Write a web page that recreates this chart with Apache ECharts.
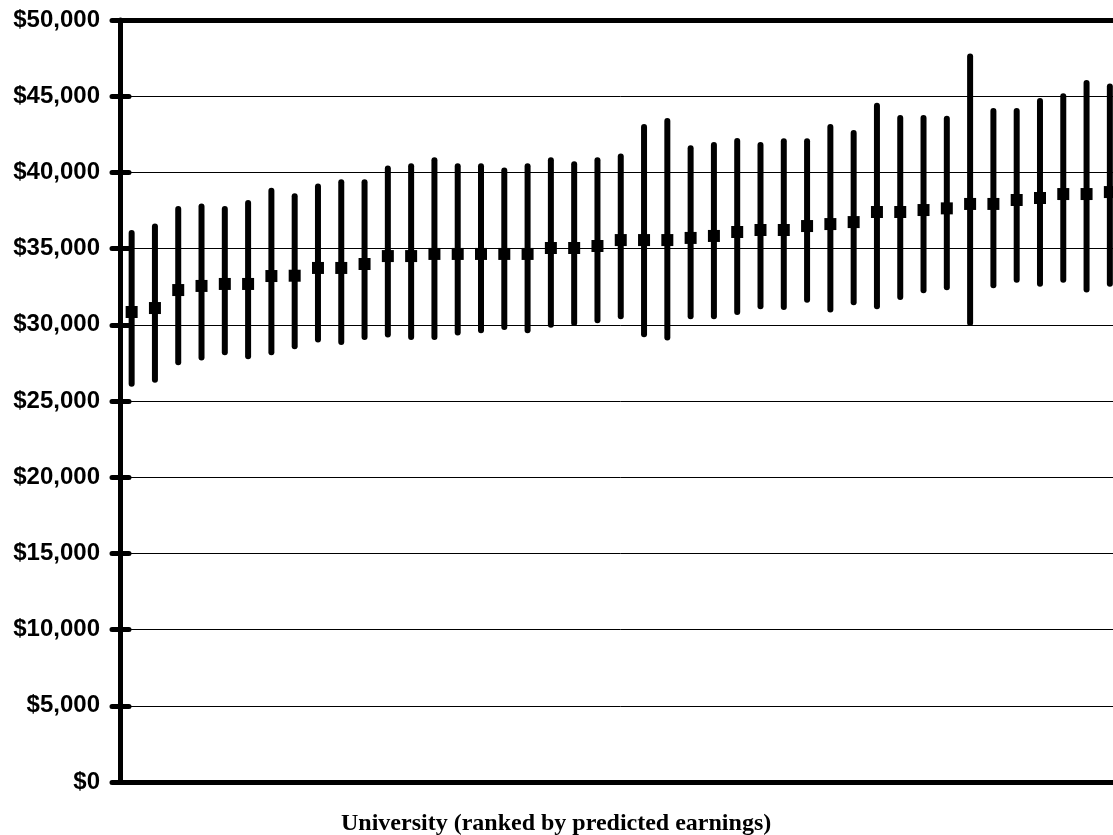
<!DOCTYPE html>
<html>
<head>
<meta charset="utf-8">
<script src="https://cdn.jsdelivr.net/npm/echarts@6/dist/echarts.min.js"></script>
<style>
html,body{margin:0;padding:0;background:#fff;overflow:hidden;width:1113px;height:835px;}
#chart{width:1124px;height:835px;}
</style>
</head>
<body>
<div id="chart"></div>
<script>
// Universities (ranked by predicted earnings) – names not shown on the chart
const categories = Array.from({length: 43}, (_, i) => 'University ' + (i + 1));

// Predicted earnings (square markers)
const predicted = [30840, 31100, 32280, 32550, 32680, 32680, 33200, 33220, 33730, 33730,
  33990, 34510, 34510, 34650, 34650, 34650, 34650, 34650, 35040, 35040,
  35170, 35560, 35560, 35560, 35700, 35830, 36090, 36220, 36220, 36480,
  36610, 36740, 37400, 37400, 37530, 37640, 37930, 37930, 38190, 38320,
  38580, 38580, 38710];

// Upper end of interval
const upper = [36020, 36450, 37600, 37770, 37600, 38000, 38800, 38430, 39080, 39350,
  39350, 40260, 40400, 40790, 40400, 40400, 40130, 40400, 40790, 40530,
  40790, 41050, 42980, 43370, 41580, 41790, 42060, 41790, 42040, 42040,
  42980, 42580, 44370, 43570, 43570, 43520, 47610, 44030, 44030, 44680,
  45000, 45860, 45640];

// Lower end of interval
const lower = [26130, 26400, 27550, 27850, 28200, 27930, 28200, 28600, 29030, 28870,
  29200, 29360, 29200, 29200, 29490, 29640, 29860, 29640, 30000, 30120,
  30300, 30560, 29380, 29160, 30560, 30560, 30840, 31220, 31170, 31650,
  31000, 31480, 31220, 31830, 32270, 32460, 30120, 32590, 32960, 32700,
  32960, 32310, 32700];

const yTicks = [0, 5000, 10000, 15000, 20000, 25000, 30000, 35000, 40000, 45000, 50000];
const xTitle = 'University (ranked by predicted earnings)';

const chart = echarts.init(document.getElementById('chart'), null, {renderer: 'canvas'});
const gridBox = {left: 120, top: 20, width: 1001.5, height: 762};

const option = {
  animation: false,
  backgroundColor: '#fff',
  title: {
    text: xTitle,
    left: 336,
    top: 807,
    textStyle: {fontFamily: 'Liberation Serif', fontWeight: 'bold', fontSize: 24, color: '#000'}
  },
  grid: [
    Object.assign({containLabel: false}, gridBox),
    Object.assign({containLabel: false}, gridBox)
  ],
  xAxis: [
    {type: 'category', gridIndex: 0, data: categories, position: 'bottom',
     axisLine: {show: true, lineStyle: {color: '#000', width: 5}},
     axisTick: {show: false}, axisLabel: {show: false}, splitLine: {show: false}},
    {type: 'category', gridIndex: 0, data: categories, position: 'top',
     axisLine: {show: true, lineStyle: {color: '#000', width: 5}},
     axisTick: {show: false}, axisLabel: {show: false}, splitLine: {show: false}},
    {type: 'category', gridIndex: 1, data: categories, show: false}
  ],
  yAxis: [
    {type: 'value', gridIndex: 0, min: yTicks[0], max: yTicks[yTicks.length - 1], interval: 5000,
     position: 'left',
     axisLine: {show: true, lineStyle: {color: '#000', width: 5}},
     axisTick: {show: true, length: 8, lineStyle: {color: '#000', width: 5, cap: 'round'}},
     axisLabel: {
       margin: 20, color: '#000', fontFamily: 'Liberation Sans', fontWeight: 'bold', fontSize: 24,
       formatter: v => '$' + v.toLocaleString('en-US')
     },
     splitLine: {show: true, lineStyle: {color: '#000', width: 1}}},
    {type: 'value', gridIndex: 1, min: yTicks[0], max: yTicks[yTicks.length - 1], interval: 5000,
     position: 'left',
     axisLine: {show: false},
     axisTick: {show: true, inside: true, length: 9, lineStyle: {color: '#000', width: 5, cap: 'round'}},
     axisLabel: {show: false},
     splitLine: {show: false}}
  ],
  series: [
    {
      type: 'custom',
      xAxisIndex: 0, yAxisIndex: 0,
      data: lower.map((l, i) => [i, l, upper[i]]),
      encode: {x: 0, y: [1, 2]},
      renderItem: function (params, api) {
        const p1 = api.coord([api.value(0), api.value(1)]);
        const p2 = api.coord([api.value(0), api.value(2)]);
        return {
          type: 'line',
          shape: {x1: p1[0], y1: p1[1], x2: p2[0], y2: p2[1]},
          style: {stroke: '#000', lineWidth: 6, lineCap: 'round'}
        };
      },
      clip: false,
      z: 2
    },
    {
      type: 'scatter',
      xAxisIndex: 0, yAxisIndex: 0,
      data: predicted,
      symbol: 'rect',
      symbolSize: 12,
      itemStyle: {color: '#000', opacity: 1},
      z: 3
    }
  ]
};
chart.setOption(option);
</script>
</body>
</html>
